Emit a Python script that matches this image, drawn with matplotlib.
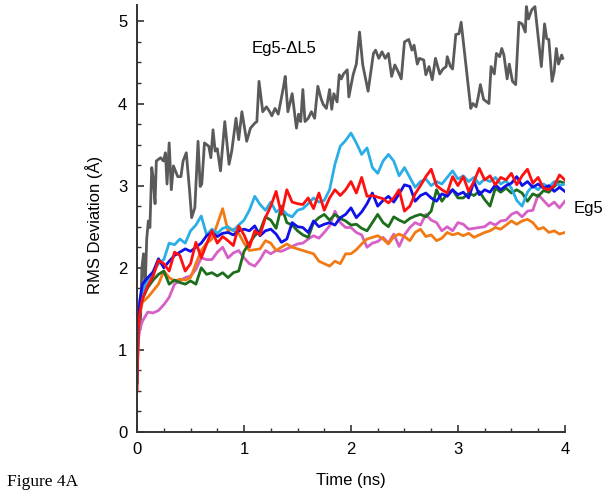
import numpy as np
from matplotlib import pyplot as plt
from matplotlib.ticker import MultipleLocator

plt.rcParams['font.family'] = ['Liberation Sans', 'DejaVu Sans']

# time axis shared by the Eg5 runs (finer sampling right at the start)
time_ns = np.concatenate([[0.0, 0.01, 0.025], np.arange(1, 81) * 0.05])

cyan_run = [0.60, 1.20, 1.50,
            1.70, 1.85, 1.95, 2.05, 2.10, 2.30, 2.28, 2.35, 2.30, 2.45,
            2.52, 2.63, 2.40, 2.47, 2.42, 2.48, 2.50, 2.45, 2.52, 2.58,
            2.70, 2.87, 2.77, 2.70, 2.80, 2.68, 2.72, 2.65, 2.62, 2.70,
            2.72, 2.78, 2.85, 2.80, 2.82, 2.95, 3.26, 3.48, 3.55, 3.64,
            3.52, 3.38, 3.46, 3.22, 3.15, 3.30, 3.38, 3.30, 3.12, 3.22,
            3.10, 2.98, 3.05, 3.08, 3.00, 3.05, 3.02, 3.10, 3.18, 3.08,
            3.12, 3.05, 3.10, 3.02, 3.08, 3.05, 3.10, 3.02, 3.06, 2.97,
            2.82, 2.75, 2.92, 3.00, 2.95, 3.02, 2.98, 3.05, 3.00, 3.02]

red_run = [0.50, 1.24, 1.45,
           1.62, 1.78, 1.90, 2.09, 2.05, 1.96, 2.19, 2.15, 1.96, 2.05,
           2.31, 2.12, 2.29, 2.45, 2.30, 2.38, 2.33, 2.27, 2.51, 2.40,
           2.25, 2.45, 2.40, 2.61, 2.75, 2.93, 2.65, 2.95, 2.80, 2.78,
           2.77, 2.85, 2.72, 2.91, 2.70, 2.85, 2.95, 2.88, 2.95, 3.05,
           2.91, 3.10, 2.87, 2.88, 2.86, 2.84, 2.79, 2.85, 2.95, 2.69,
           2.75, 2.90, 3.00, 3.11, 3.20, 3.00, 2.95, 2.91, 3.11, 3.00,
           3.11, 2.93, 3.05, 3.21, 3.07, 3.12, 3.01, 3.10, 3.07, 3.15,
           3.01, 3.12, 3.20, 3.03, 3.10, 2.97, 2.95, 3.00, 3.13, 3.07]

blue_run = [0.70, 1.30, 1.60,
            1.80, 1.88, 1.95, 2.11, 2.00, 2.08, 2.15, 2.19, 2.23, 2.20,
            2.25, 2.30, 2.39, 2.43, 2.38, 2.42, 2.43, 2.40, 2.45, 2.47,
            2.45, 2.51, 2.39, 2.45, 2.47, 2.41, 2.31, 2.35, 2.55, 2.50,
            2.49, 2.43, 2.57, 2.50, 2.53, 2.55, 2.52, 2.61, 2.65, 2.73,
            2.61, 2.68, 2.78, 2.91, 2.75, 2.82, 2.87, 2.80, 2.90, 3.01,
            2.99, 2.81, 2.88, 2.91, 2.85, 2.81, 2.90, 2.87, 2.95, 2.89,
            2.92, 2.85, 3.05, 2.89, 2.95, 2.92, 3.01, 2.95, 3.00, 3.03,
            3.11, 3.00, 3.05, 2.98, 3.02, 2.97, 3.00, 2.93, 2.98, 2.93]

green_run = [0.60, 1.20, 1.50,
             1.62, 1.76, 1.85, 1.92, 1.96, 1.80, 1.85, 1.82, 1.80, 1.84,
             1.80, 2.00, 1.92, 1.94, 1.90, 1.94, 1.88, 1.94, 1.96, 2.20,
             2.30, 2.39, 2.45, 2.62, 2.58, 2.48, 2.75, 2.55, 2.52, 2.45,
             2.40, 2.37, 2.55, 2.61, 2.65, 2.58, 2.65, 2.60, 2.57, 2.52,
             2.53, 2.48, 2.45, 2.55, 2.65, 2.55, 2.50, 2.62, 2.58, 2.55,
             2.60, 2.63, 2.65, 2.62, 2.69, 2.95, 2.81, 2.90, 2.95, 2.85,
             2.85, 2.91, 2.88, 2.93, 2.83, 2.75, 2.97, 2.92, 2.97, 2.91,
             2.95, 2.91, 2.81, 2.90, 2.87, 2.94, 2.92, 2.99, 3.05, 3.03]

orange_run = [0.60, 1.20, 1.45,
              1.58, 1.64, 1.72, 1.80, 1.96, 1.88, 1.84, 1.86, 1.85, 1.88,
              2.05, 2.21, 2.30, 2.35, 2.53, 2.72, 2.45, 2.47, 2.42, 2.30,
              2.21, 2.22, 2.23, 2.33, 2.30, 2.21, 2.25, 2.29, 2.25, 2.23,
              2.21, 2.19, 2.17, 2.08, 2.05, 2.02, 2.08, 2.05, 2.17, 2.17,
              2.22, 2.29, 2.35, 2.37, 2.39, 2.35, 2.29, 2.38, 2.41, 2.38,
              2.33, 2.43, 2.47, 2.38, 2.40, 2.33, 2.36, 2.43, 2.40, 2.42,
              2.39, 2.42, 2.37, 2.40, 2.43, 2.45, 2.49, 2.47, 2.52, 2.57,
              2.53, 2.57, 2.59, 2.55, 2.47, 2.49, 2.43, 2.45, 2.41, 2.43]

pink_run = [0.60, 1.10, 1.25,
            1.35, 1.46, 1.45, 1.48, 1.55, 1.64, 1.80, 1.84, 1.88, 1.90,
            1.98, 2.12, 2.10, 2.10, 2.19, 2.25, 2.12, 2.18, 2.21, 2.12,
            2.05, 2.02, 2.10, 2.21, 2.17, 2.21, 2.20, 2.23, 2.26, 2.29,
            2.30, 2.35, 2.39, 2.36, 2.43, 2.51, 2.69, 2.55, 2.49, 2.49,
            2.43, 2.40, 2.25, 2.30, 2.32, 2.37, 2.30, 2.41, 2.26, 2.40,
            2.49, 2.55, 2.52, 2.65, 2.58, 2.55, 2.45, 2.50, 2.45, 2.55,
            2.53, 2.47, 2.48, 2.49, 2.50, 2.55, 2.52, 2.57, 2.58, 2.65,
            2.68, 2.62, 2.69, 2.70, 2.89, 2.82, 2.75, 2.80, 2.73, 2.81]

# Eg5-dL5 trace, read point by point
dl5_time = [0.000, 0.010, 0.030, 0.045, 0.060, 0.075, 0.090, 0.105, 0.120, 0.137,
            0.150, 0.168, 0.180, 0.200, 0.220, 0.246, 0.265, 0.280, 0.300, 0.320,
            0.340, 0.380, 0.410, 0.430, 0.460, 0.490, 0.510, 0.540, 0.570, 0.590,
            0.605, 0.630, 0.670, 0.690, 0.710, 0.730, 0.750, 0.780, 0.820, 0.860,
            0.885, 0.925, 0.950, 0.980, 1.025, 1.060, 1.100, 1.120, 1.140, 1.175,
            1.210, 1.240, 1.260, 1.290, 1.320, 1.370, 1.385, 1.410, 1.450, 1.490,
            1.510, 1.530, 1.550, 1.570, 1.600, 1.630, 1.660, 1.690, 1.720, 1.740,
            1.770, 1.800, 1.820, 1.840, 1.870, 1.890, 1.910, 1.930, 1.965, 1.980,
            2.020, 2.050, 2.080, 2.110, 2.160, 2.210, 2.230, 2.260, 2.290, 2.320,
            2.350, 2.380, 2.410, 2.440, 2.470, 2.500, 2.540, 2.570, 2.590, 2.620,
            2.640, 2.680, 2.700, 2.730, 2.760, 2.790, 2.830, 2.860, 2.890, 2.900,
            2.930, 2.950, 2.980, 3.010, 3.030, 3.120, 3.140, 3.170, 3.190, 3.210,
            3.240, 3.270, 3.290, 3.310, 3.340, 3.360, 3.390, 3.410, 3.430, 3.460,
            3.480, 3.510, 3.540, 3.570, 3.600, 3.630, 3.640, 3.660, 3.690, 3.720,
            3.780, 3.810, 3.830, 3.850, 3.880, 3.900, 3.920, 3.940, 3.970, 3.980]
dl5_rmsd = [0.90, 1.35, 1.27, 2.00, 2.17, 1.72, 2.35, 2.57, 2.49, 3.22,
            3.10, 2.78, 3.30, 3.32, 3.34, 3.30, 3.40, 3.02, 3.52, 2.95,
            3.24, 3.11, 3.11, 3.30, 3.40, 2.95, 2.61, 2.73, 3.54, 2.99,
            3.02, 3.52, 3.48, 3.34, 3.68, 3.42, 3.45, 3.18, 3.78, 3.26,
            3.42, 3.82, 3.56, 3.90, 3.54, 3.70, 3.76, 3.78, 4.27, 3.90,
            3.96, 3.90, 3.85, 3.94, 3.87, 4.21, 4.33, 3.90, 4.12, 3.70,
            3.87, 3.78, 4.17, 3.78, 3.82, 3.90, 3.82, 4.21, 4.06, 3.99,
            3.94, 4.17, 3.93, 4.12, 4.02, 4.35, 4.30, 4.36, 4.41, 4.08,
            4.35, 4.48, 4.87, 4.47, 4.15, 4.61, 4.65, 4.55, 4.63, 4.55,
            4.61, 4.33, 4.47, 4.39, 4.30, 4.75, 4.78, 4.65, 4.71, 4.48,
            4.55, 4.53, 4.35, 4.45, 4.29, 4.55, 4.36, 4.42, 4.45, 4.57,
            4.45, 4.42, 4.84, 4.85, 4.99, 3.94, 4.00, 3.96, 4.08, 4.23,
            4.05, 4.02, 4.00, 4.45, 4.36, 4.61, 4.57, 4.67, 4.59, 4.30,
            4.48, 4.27, 4.23, 4.99, 4.97, 4.87, 5.18, 5.03, 5.14, 5.18,
            4.45, 4.97, 4.79, 4.78, 4.27, 4.39, 4.67, 4.48, 4.59, 4.55]

fig = plt.figure(figsize=(6.12, 4.96), dpi=100)
ax = fig.add_axes([0.224, 0.129, 0.699, 0.861])

lw = 2.0
ax.plot(dl5_time, dl5_rmsd, color='#5a5a5a', lw=lw)
ax.plot(time_ns, pink_run, color='#d660c6', lw=lw)
ax.plot(time_ns, orange_run, color='#f27a14', lw=lw)
ax.plot(time_ns, green_run, color='#1c6e1c', lw=lw)
ax.plot(time_ns, cyan_run, color='#2aaee6', lw=lw)
ax.plot(time_ns, blue_run, color='#1010e8', lw=lw)
ax.plot(time_ns, red_run, color='#ff1010', lw=lw)

ax.set_xlim(0, 4)
ax.set_ylim(0, 5.2)
ax.spines['top'].set_visible(False)
ax.spines['right'].set_visible(False)
for s in ['left', 'bottom']:
    ax.spines[s].set_linewidth(1.4)
    ax.spines[s].set_color('#333333')

ax.xaxis.set_major_locator(MultipleLocator(1))
ax.xaxis.set_minor_locator(MultipleLocator(0.25))
ax.yaxis.set_major_locator(MultipleLocator(1))
ax.yaxis.set_minor_locator(MultipleLocator(0.25))
ax.tick_params(which='major', direction='in', length=5, width=1.2, color='#333333',
               labelsize=12, pad=7)
ax.tick_params(which='minor', direction='in', length=3, width=1.0, color='#333333')

ax.set_xlabel('Time (ns)', fontsize=12)
ax.set_ylabel('RMS Deviation (Å)', fontsize=12)
ax.xaxis.set_label_coords(0.5, -0.097)
ax.yaxis.set_label_coords(-0.08, 0.485)

ax.text(1.07, 4.67, 'Eg5-ΔL5', fontsize=12, va='center', ha='left')
ax.text(4.08, 2.72, 'Eg5', fontsize=12, va='center', ha='left', clip_on=False)

fig.text(0.011, 0.028, 'Figure 4A', fontsize=12.5, family=['Liberation Serif', 'DejaVu Serif'],
         va='center', ha='left')

fig.savefig('out.png', dpi=100)
